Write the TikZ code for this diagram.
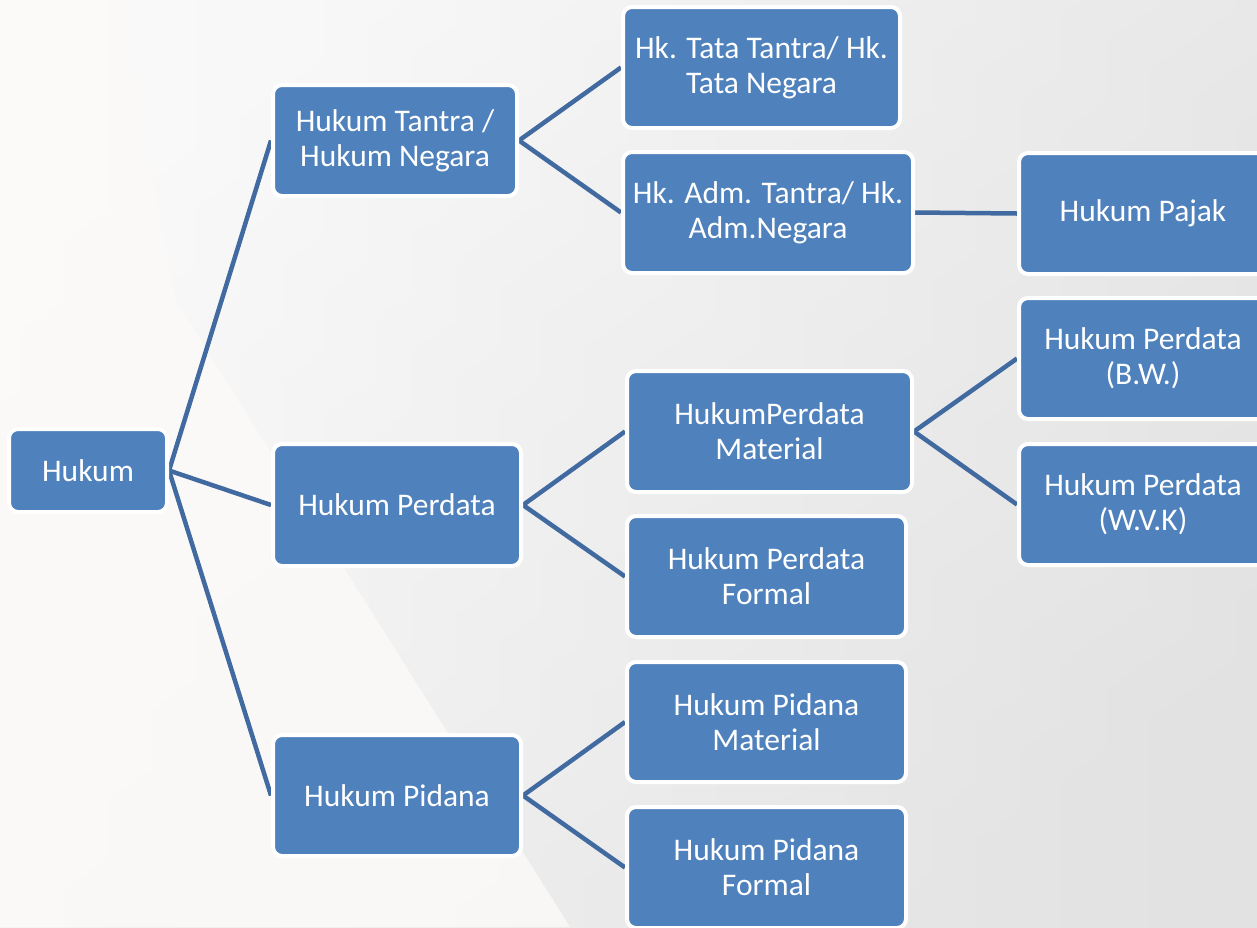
\documentclass[tikz,border=0pt]{standalone}
\usepackage{fontspec}
\setmainfont{Carlito}
\usetikzlibrary{backgrounds}
\definecolor{boxblue}{HTML}{4F81BD}
\definecolor{linkblue}{HTML}{416AA0}
\definecolor{bggray}{HTML}{E2E2E2}
\definecolor{bglight}{HTML}{F8F8F8}
\definecolor{bgwarm}{HTML}{FCFAF8}
\begin{document}
\begin{tikzpicture}[x=1pt,y=-1pt,
  box/.style={draw=white, line width=4pt, fill=boxblue, rounded corners=9pt,
    text=white, font=\fontsize{31.5}{35}\selectfont, align=center, inner sep=0pt},
  link/.style={draw=linkblue, line width=4.5pt}]
\useasboundingbox (0,0) rectangle (1257,927);
\clip (0,0) rectangle (1257,927);

\node[box, minimum width=158, minimum height=83] (hukum) at (88,470.5) {Hukum};
\node[box, minimum width=244, minimum height=111] (tantra) at (395,140.5) {Hukum Tantra /\\Hukum Negara};
\node[box, minimum width=248, minimum height=122] (perdata) at (397,505) {Hukum Perdata};
\node[box, minimum width=248, minimum height=121] (pidana) at (397,795.5) {Hukum Pidana};

\node[box, minimum width=277, minimum height=121] (tata) at (761.5,67.5) {Hk. Tata Tantra/ Hk.\\Tata Negara};
\node[box, minimum width=290, minimum height=121] (adm) at (768,212.5) {Hk. Adm. Tantra/ Hk.\\Adm.Negara};
\node[box, minimum width=248, minimum height=121] (pajak) at (1143,213.5) {Hukum Pajak};

\node[box, minimum width=285, minimum height=121] (pmat) at (769.5,431.5) {HukumPerdata\\Material};
\node[box, minimum width=279, minimum height=121] (pfor) at (766.5,576.5) {Hukum Perdata\\Formal};
\node[box, minimum width=248, minimum height=121] (bw) at (1143,358.5) {Hukum Perdata\\(B.W.)};
\node[box, minimum width=248, minimum height=121] (wvk) at (1143,504.5) {Hukum Perdata\\(W.V.K)};

\node[box, minimum width=279, minimum height=120] (pidmat) at (766.5,722) {Hukum Pidana\\Material};
\node[box, minimum width=279, minimum height=121] (pidfor) at (766.5,867.5) {Hukum Pidana\\Formal};

\begin{scope}[on background layer]
  \shade[top color=bglight, bottom color=bggray, shading angle=35] (0,0) rectangle (1257,927);
  \shade[left color=white, right color=bggray, opacity=0.45] (0,0) rectangle (1257,927);
  \fill[bgwarm, opacity=0.85] (0,0) -- (120,0) -- (175,300) -- (570,927) -- (0,927) -- cycle;
  \draw[link] (hukum.east) -- (tantra.west);
  \draw[link] (hukum.east) -- (perdata.west);
  \draw[link] (hukum.east) -- (pidana.west);
  \draw[link] (tantra.east) -- (tata.west);
  \draw[link] (tantra.east) -- (adm.west);
  \draw[link] (adm.east) -- (pajak.west);
  \draw[link] (perdata.east) -- (pmat.west);
  \draw[link] (perdata.east) -- (pfor.west);
  \draw[link] (pmat.east) -- (bw.west);
  \draw[link] (pmat.east) -- (wvk.west);
  \draw[link] (pidana.east) -- (pidmat.west);
  \draw[link] (pidana.east) -- (pidfor.west);
\end{scope}
\end{tikzpicture}
\end{document}
